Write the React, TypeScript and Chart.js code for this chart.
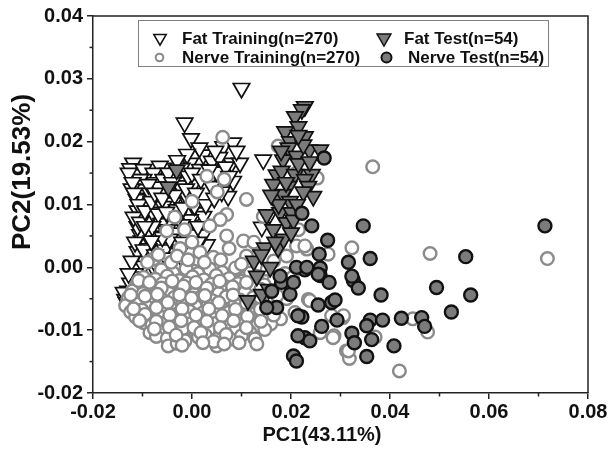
import React, { useEffect, useRef } from "react";
import { Chart, registerables } from "chart.js";

Chart.register(...registerables);

const FONT = '"Liberation Sans", Arial, Helvetica, sans-serif';

const xTickValues = [-0.02, 0.0, 0.02, 0.04, 0.06, 0.08];
const yTickValues = [-0.02, -0.01, 0.0, 0.01, 0.02, 0.03, 0.04];
const xTitle = "PC1(43.11%)";
const yTitle = "PC2(19.53%)";
const seriesNames = ["Fat Training(n=270)", "Nerve Training(n=270)", "Fat Test(n=54)", "Nerve Test(n=54)"];

const fatTraining: [number, number][] = [
  [0.0100, 0.0285], [-0.0015, 0.0230], [-0.0002, 0.0205], [0.0023, 0.0179], [0.0063, 0.0192],
  [0.0083, 0.0198], [0.0080, 0.0166], [0.0040, 0.0169], [0.0097, 0.0166], [0.0144, 0.0171],
  [-0.0004, 0.0166], [0.0016, 0.0156], [-0.0021, 0.0158], [-0.0058, 0.0158], [-0.0065, 0.0161],
  [-0.0119, 0.0166], [-0.0125, 0.0157], [-0.0115, 0.0148], [-0.0098, 0.0156], [-0.0078, 0.0150],
  [-0.0098, 0.0140], [-0.0075, 0.0135], [-0.0058, 0.0140], [-0.0034, 0.0145], [0.0003, 0.0132],
  [0.0036, 0.0140], [0.0083, 0.0137], [-0.0105, 0.0140], [-0.0098, 0.0124], [-0.0055, 0.0121],
  [-0.0044, 0.0124], [-0.0092, 0.0110], [-0.0014, 0.0111], [0.0073, 0.0113], [0.0040, 0.0129],
  [-0.0071, 0.0097], [-0.0038, 0.0103], [-0.0011, 0.0113], [-0.0092, 0.0103], [-0.0058, 0.0097],
  [-0.0031, 0.0092], [0.0010, 0.0087], [0.0023, 0.0081], [-0.0085, 0.0076], [-0.0044, 0.0076],
  [-0.0004, 0.0076], [-0.0092, 0.0055], [-0.0071, 0.0050], [-0.0031, 0.0055], [-0.0004, 0.0055],
  [-0.0102, 0.0042], [-0.0065, 0.0039], [-0.0044, 0.0016], [-0.0031, 0.0002], [-0.0102, 0.0013],
  [-0.0112, -0.0003], [-0.0119, -0.0019], [-0.0129, -0.0038], [-0.0135, -0.0051], [-0.0098, 0.0002],
  [-0.0078, 0.0000], [-0.0119, -0.0045], [-0.0132, -0.0056], [-0.0105, -0.0030], [-0.0092, -0.0019],
  [-0.0071, 0.0002], [-0.0038, 0.0044], [0.0003, 0.0052], [0.0030, 0.0036], [0.0023, 0.0052],
  [-0.0092, 0.0052], [-0.0105, 0.0052], [-0.0071, 0.0034], [-0.0085, 0.0018], [-0.0038, 0.0010],
  [-0.0017, 0.0010], [-0.0024, 0.0026], [0.0153, 0.0079], [0.0163, 0.0114], [0.0141, 0.0064],
  [-0.0110, 0.0090], [-0.0100, 0.0080], [-0.0080, 0.0088], [-0.0062, 0.0070], [-0.0050, 0.0060],
  [-0.0020, 0.0068], [0.0005, 0.0098], [-0.0110, 0.0065], [-0.0088, 0.0030], [-0.0055, 0.0028],
  [-0.0110, 0.0025], [-0.0122, 0.0125], [-0.0112, 0.0108], [-0.0085, 0.0118], [-0.0068, 0.0128],
  [-0.0025, 0.0130], [-0.0008, 0.0145], [0.0050, 0.0152], [0.0060, 0.0120], [-0.0045, 0.0045],
  [-0.0125, -0.0025], [-0.0115, -0.0010],
  [-0.0128, 0.0150], [-0.0120, 0.0135], [-0.0117, 0.0118], [-0.0108, 0.0100], [-0.0118, 0.0080],
  [-0.0105, 0.0072], [-0.0095, 0.0090], [-0.0088, 0.0132], [-0.0082, 0.0105], [-0.0075, 0.0118],
  [-0.0068, 0.0085], [-0.0060, 0.0110], [-0.0052, 0.0088], [-0.0048, 0.0150], [-0.0040, 0.0135],
  [-0.0035, 0.0115], [-0.0028, 0.0080], [-0.0018, 0.0095], [-0.0012, 0.0125], [0.0000, 0.0150],
  [0.0008, 0.0118], [0.0012, 0.0065], [0.0018, 0.0140], [0.0028, 0.0100], [0.0035, 0.0155],
  [0.0045, 0.0110], [0.0055, 0.0175], [0.0068, 0.0160], [0.0075, 0.0145], [0.0090, 0.0185],
  [0.0047, 0.0185], [0.0015, 0.0190], [-0.0010, 0.0180], [-0.0030, 0.0170], [-0.0080, 0.0065],
  [-0.0095, 0.0065], [-0.0115, 0.0040], [-0.0098, 0.0028], [-0.0075, 0.0020], [-0.0060, 0.0010],
  [-0.0122, 0.0010], [-0.0108, -0.0015], [-0.0128, -0.0010], [-0.0138, -0.0040], [-0.0126, -0.0060],
  [-0.0052, 0.0015], [-0.0020, 0.0040], [0.0012, 0.0040], [-0.0060, 0.0048], [-0.0082, 0.0042],
];

const nerveTraining: [number, number][] = [
  // sparse upper / outlying points
  [0.0062, 0.0207], [0.0174, 0.0193], [0.0030, 0.0145], [0.0065, 0.0140], [0.0051, 0.0120],
  [0.0000, 0.0105], [0.0110, 0.0108], [0.0211, 0.0150], [0.0253, 0.0142], [0.0365, 0.0160],
  [0.0144, 0.0081], [0.0070, 0.0084], [0.0057, 0.0076], [0.0036, 0.0066], [-0.0051, 0.0058],
  [0.0215, 0.0060], [0.0104, 0.0042], [0.0211, 0.0034], [0.0232, 0.0029], [0.0323, 0.0031],
  [0.0228, 0.0034], [0.0134, 0.0021], [0.0110, 0.0018], [0.0191, 0.0018], [0.0275, 0.0021],
  [0.0481, 0.0022], [0.0718, 0.0014], [-0.0024, 0.0030], [0.0016, 0.0024], [0.0043, 0.0016],
  [0.0090, -0.0003], [0.0003, -0.0006], [-0.0078, 0.0013], [-0.0055, -0.0008],
  // right / lower spread
  [0.0419, -0.0165], [0.0312, -0.0133], [0.0318, -0.0145], [0.0287, -0.0109], [0.0370, -0.0111],
  [0.0446, -0.0082], [0.0476, -0.0103], [0.0305, -0.0080], [0.0282, -0.0077], [0.0259, -0.0104],
  [0.0235, -0.0051], [0.0208, -0.0072], [0.0238, -0.0053], [0.0285, -0.0112], [0.0306, -0.0077],
  [0.0316, -0.0133], [0.0083, -0.0114],
  // dense cloud
  [-0.0062, -0.0004], [-0.0038, -0.0009], [-0.0012, -0.0002], [0.0012, -0.0010], [0.0036, -0.0003],
  [0.0061, -0.0008], [0.0088, -0.0001], [0.0118, -0.0009], [0.0152, -0.0003], [0.0188, -0.0010],
  [-0.0098, -0.0016], [-0.0074, -0.0019], [-0.0050, -0.0014], [-0.0026, -0.0021], [0.0001, -0.0015],
  [0.0024, -0.0020], [0.0049, -0.0013], [0.0075, -0.0018], [0.0102, -0.0022], [0.0131, -0.0014],
  [0.0166, -0.0019], [0.0203, -0.0016],
  [-0.0112, -0.0028], [-0.0085, -0.0031], [-0.0060, -0.0026], [-0.0036, -0.0030], [-0.0011, -0.0025],
  [0.0014, -0.0032], [0.0039, -0.0027], [0.0066, -0.0030], [0.0093, -0.0026], [0.0120, -0.0033],
  [0.0146, -0.0028], [0.0178, -0.0031],
  [-0.0121, -0.0038], [-0.0099, -0.0042], [-0.0073, -0.0036], [-0.0047, -0.0041], [-0.0022, -0.0037],
  [0.0004, -0.0043], [0.0029, -0.0038], [0.0054, -0.0042], [0.0081, -0.0036], [0.0107, -0.0040],
  [0.0134, -0.0044], [0.0161, -0.0039],
  [-0.0129, -0.0049], [-0.0106, -0.0053], [-0.0084, -0.0047], [-0.0061, -0.0051], [-0.0036, -0.0048],
  [-0.0013, -0.0054], [0.0014, -0.0049], [0.0041, -0.0053], [0.0069, -0.0047], [0.0097, -0.0052],
  [0.0124, -0.0048], [0.0151, -0.0055], [0.0191, -0.0050],
  [-0.0134, -0.0061], [-0.0113, -0.0058], [-0.0091, -0.0063], [-0.0067, -0.0059], [-0.0043, -0.0064],
  [-0.0019, -0.0058], [0.0007, -0.0062], [0.0032, -0.0060], [0.0059, -0.0065], [0.0087, -0.0059],
  [0.0114, -0.0063], [0.0141, -0.0058], [0.0171, -0.0066],
  [-0.0124, -0.0071], [-0.0101, -0.0068], [-0.0079, -0.0073], [-0.0053, -0.0069], [-0.0029, -0.0074],
  [-0.0005, -0.0070], [0.0021, -0.0073], [0.0047, -0.0068], [0.0074, -0.0072], [0.0101, -0.0069],
  [0.0127, -0.0074], [0.0157, -0.0070],
  [-0.0114, -0.0079], [-0.0089, -0.0083], [-0.0066, -0.0078], [-0.0041, -0.0082], [-0.0016, -0.0079],
  [0.0011, -0.0084], [0.0037, -0.0078], [0.0064, -0.0081], [0.0091, -0.0077], [0.0117, -0.0083],
  [0.0144, -0.0079], [0.0179, -0.0082],
  [-0.0098, -0.0088], [-0.0081, -0.0092], [-0.0056, -0.0089], [-0.0031, -0.0093], [-0.0006, -0.0090],
  [0.0021, -0.0094], [0.0049, -0.0089], [0.0077, -0.0092], [0.0104, -0.0088], [0.0131, -0.0093],
  [0.0159, -0.0090],
  [-0.0085, -0.0104], [-0.0065, -0.0099], [-0.0043, -0.0103], [-0.0019, -0.0098], [0.0006, -0.0102],
  [0.0034, -0.0099], [0.0063, -0.0104], [0.0089, -0.0100], [0.0117, -0.0103], [0.0147, -0.0099],
  [-0.0072, -0.0110], [-0.0050, -0.0113], [-0.0014, -0.0117], [0.0013, -0.0111], [0.0027, -0.0108],
  [0.0054, -0.0112], [0.0077, -0.0114], [0.0100, -0.0109], [0.0127, -0.0114], [0.0131, -0.0122],
  [-0.0048, -0.0125], [0.0050, -0.0125], [-0.0030, -0.0121],
  // extra cloud fill
  [-0.0090, 0.0008], [-0.0068, 0.0020], [-0.0042, 0.0008], [-0.0030, 0.0018], [-0.0008, 0.0012],
  [0.0025, 0.0008], [0.0058, 0.0012], [0.0075, 0.0030], [0.0100, 0.0005], [0.0125, 0.0040],
  [0.0165, 0.0010], [0.0070, 0.0050], [0.0000, 0.0040], [-0.0015, 0.0060], [-0.0035, 0.0080],
  [-0.0108, -0.0021], [-0.0086, -0.0024], [-0.0062, -0.0033], [-0.0040, -0.0022], [-0.0017, -0.0030],
  [0.0008, -0.0024], [0.0030, -0.0033], [0.0056, -0.0022], [0.0082, -0.0031], [0.0110, -0.0024],
  [0.0139, -0.0035],
  [-0.0124, -0.0044], [-0.0095, -0.0046], [-0.0070, -0.0043], [-0.0049, -0.0056], [-0.0025, -0.0044],
  [-0.0001, -0.0049], [0.0026, -0.0045], [0.0054, -0.0056], [0.0083, -0.0044], [0.0110, -0.0057],
  [0.0138, -0.0048], [0.0172, -0.0045],
  [-0.0118, -0.0066], [-0.0095, -0.0075], [-0.0072, -0.0064], [-0.0045, -0.0076], [-0.0020, -0.0066],
  [0.0008, -0.0076], [0.0034, -0.0066], [0.0061, -0.0077], [0.0088, -0.0067], [0.0112, -0.0078],
  [0.0138, -0.0067], [0.0165, -0.0076],
  [-0.0106, -0.0085], [-0.0072, -0.0086], [-0.0046, -0.0095], [-0.0022, -0.0085], [0.0004, -0.0096],
  [0.0030, -0.0086], [0.0057, -0.0096], [0.0084, -0.0085], [0.0110, -0.0096], [0.0139, -0.0086],
  [-0.0076, -0.0098], [-0.0032, -0.0108], [0.0018, -0.0104], [0.0044, -0.0118], [0.0069, -0.0107],
  [0.0095, -0.0120], [-0.0020, -0.0124], [0.0022, -0.0120], [0.0065, -0.0122],
];

const fatTest: [number, number][] = [
  [0.0228, 0.0256], [0.0222, 0.0251], [0.0208, 0.0240], [0.0215, 0.0224], [0.0188, 0.0216],
  [0.0228, 0.0208], [0.0198, 0.0200], [0.0195, 0.0190], [0.0237, 0.0187], [0.0259, 0.0187],
  [0.0184, 0.0171], [0.0211, 0.0177], [0.0171, 0.0147], [0.0181, 0.0153], [0.0208, 0.0148],
  [0.0242, 0.0148], [0.0228, 0.0140], [0.0164, 0.0132], [0.0195, 0.0129], [0.0235, 0.0129],
  [0.0245, 0.0113], [0.0171, 0.0108], [0.0184, 0.0116], [0.0198, 0.0105], [0.0151, 0.0084],
  [0.0178, 0.0087], [0.0201, 0.0087], [0.0164, 0.0060], [0.0191, 0.0071], [0.0147, 0.0031],
  [0.0174, 0.0031], [0.0158, 0.0000], [0.0131, -0.0014], [0.0113, -0.0053], [0.0141, -0.0043],
  [-0.0031, 0.0155], [-0.0048, 0.0128], [0.0215, 0.0165], [0.0225, 0.0120], [0.0205, 0.0075],
  [0.0185, 0.0045], [0.0225, 0.0195], [0.0175, 0.0100], [0.0155, -0.0035], [0.0125, 0.0010],
  [0.0168, 0.0040], [0.0212, 0.0100], [0.0190, 0.0135], [0.0160, 0.0115], [0.0215, 0.0210],
  [0.0238, 0.0168], [0.0180, 0.0185], [0.0140, 0.0020], [0.0200, 0.0055],
];

const nerveTest: [number, number][] = [
  [0.0242, 0.0066], [0.0346, 0.0066], [0.0713, 0.0066], [0.0274, 0.0043], [0.0257, 0.0021],
  [0.0316, 0.0008], [0.0360, 0.0014], [0.0553, 0.0017], [0.0259, -0.0001], [0.0228, -0.0004],
  [0.0259, -0.0013], [0.0277, -0.0024], [0.0326, -0.0021], [0.0336, -0.0033], [0.0382, -0.0044],
  [0.0494, -0.0032], [0.0563, -0.0044], [0.0255, -0.0060], [0.0282, -0.0056], [0.0289, -0.0052],
  [0.0524, -0.0071], [0.0222, -0.0079], [0.0293, -0.0084], [0.0360, -0.0084], [0.0385, -0.0084],
  [0.0423, -0.0081], [0.0464, -0.0080], [0.0470, -0.0094], [0.0353, -0.0093], [0.0262, -0.0094],
  [0.0323, -0.0105], [0.0328, -0.0120], [0.0363, -0.0115], [0.0228, -0.0112], [0.0238, -0.0117],
  [0.0408, -0.0125], [0.0353, -0.0142], [0.0205, -0.0141], [0.0211, -0.0149], [0.0214, -0.0077],
  [0.0214, -0.0109], [0.0171, -0.0064], [0.0151, -0.0064], [0.0161, -0.0038], [0.0181, -0.0024],
  [0.0198, -0.0043], [0.0205, -0.0024], [0.0211, 0.0000], [0.0222, 0.0086], [0.0232, 0.0000],
  [0.0255, -0.0011], [0.0178, -0.0014], [0.0267, 0.0174], [0.0323, -0.0014],
];

const toXY = (arr: [number, number][]) => arr.map(([x, y]) => ({ x, y }));

const fmt = (v: number) => (Math.abs(v) < 1e-9 ? 0 : v).toFixed(2);

function downTri(ctx: CanvasRenderingContext2D, x: number, y: number, r: number, fill: string, stroke: string, lw: number) {
  ctx.beginPath();
  ctx.moveTo(x - r * 0.866, y - r * 0.5);
  ctx.lineTo(x + r * 0.866, y - r * 0.5);
  ctx.lineTo(x, y + r);
  ctx.closePath();
  ctx.fillStyle = fill;
  ctx.fill();
  ctx.lineWidth = lw;
  ctx.strokeStyle = stroke;
  ctx.stroke();
}

function circ(ctx: CanvasRenderingContext2D, x: number, y: number, r: number, fill: string, stroke: string, lw: number) {
  ctx.beginPath();
  ctx.arc(x, y, r, 0, Math.PI * 2);
  ctx.fillStyle = fill;
  ctx.fill();
  ctx.lineWidth = lw;
  ctx.strokeStyle = stroke;
  ctx.stroke();
}

const decorPlugin = {
  id: "decor",
  afterDraw(chart: any) {
    const { ctx, chartArea: a, scales } = chart;
    const xs = scales.x;
    const ys = scales.y;
    ctx.save();
    ctx.strokeStyle = "#222";
    ctx.lineWidth = 1.5;
    ctx.beginPath();
    ctx.moveTo(a.left, a.top);
    ctx.lineTo(a.right, a.top);
    ctx.lineTo(a.right, a.bottom);
    ctx.stroke();
    for (let i = 0; i < xTickValues.length - 1; i++) {
      const px = xs.getPixelForValue((xTickValues[i] + xTickValues[i + 1]) / 2);
      ctx.beginPath();
      ctx.moveTo(px, a.bottom);
      ctx.lineTo(px, a.bottom + 3.5);
      ctx.stroke();
    }
    for (let i = 0; i < yTickValues.length - 1; i++) {
      const py = ys.getPixelForValue((yTickValues[i] + yTickValues[i + 1]) / 2);
      ctx.beginPath();
      ctx.moveTo(a.left, py);
      ctx.lineTo(a.left - 3.5, py);
      ctx.stroke();
    }
    ctx.fillStyle = "#111";
    ctx.textAlign = "center";
    ctx.textBaseline = "middle";
    ctx.font = `bold 20px ${FONT}`;
    ctx.fillText(xTitle, 322, 435);
    ctx.save();
    ctx.translate(23, 172);
    ctx.rotate(-Math.PI / 2);
    ctx.font = `bold 26px ${FONT}`;
    ctx.fillText(yTitle, 0, 0);
    ctx.restore();
    ctx.fillStyle = "#fff";
    ctx.fillRect(138, 20, 410, 46);
    ctx.strokeStyle = "#808080";
    ctx.lineWidth = 1;
    ctx.strokeRect(138.5, 20.5, 410, 46);
    downTri(ctx, 160, 38, 7.2, "#fff", "#111", 1.5);
    circ(ctx, 159.5, 57.5, 3.8, "#fff", "#8a8a8a", 2);
    downTri(ctx, 384, 38, 8, "#7b7b7b", "#111", 1.5);
    circ(ctx, 386.5, 57.5, 5, "#7b7b7b", "#111", 2);
    ctx.fillStyle = "#111";
    ctx.textAlign = "left";
    ctx.textBaseline = "alphabetic";
    ctx.font = `bold 17px ${FONT}`;
    ctx.fillText(seriesNames[0], 182, 43.5);
    ctx.fillText(seriesNames[1], 182, 63);
    ctx.fillText(seriesNames[2], 404, 43.5);
    ctx.fillText(seriesNames[3], 408, 63);
    ctx.restore();
  },
};

export default function App() {
  const canvasRef = useRef<HTMLCanvasElement | null>(null);

  useEffect(() => {
    const canvas = canvasRef.current;
    if (!canvas) return;
    const chart = new Chart(canvas, {
      type: "scatter",
      data: {
        datasets: [
          {
            label: seriesNames[0],
            data: toXY(fatTraining),
            pointStyle: "triangle",
            rotation: 180,
            pointRadius: 9.5,
            backgroundColor: "#ffffff",
            borderColor: "#111111",
            borderWidth: 1.7,
            order: 4,
          },
          {
            label: seriesNames[1],
            data: toXY(nerveTraining),
            pointStyle: "circle",
            pointRadius: 6.3,
            backgroundColor: "#ffffff",
            borderColor: "#8a8a8a",
            borderWidth: 2.4,
            order: 3,
          },
          {
            label: seriesNames[2],
            data: toXY(fatTest),
            pointStyle: "triangle",
            rotation: 180,
            pointRadius: 9.5,
            backgroundColor: "#7b7b7b",
            borderColor: "#111111",
            borderWidth: 1.7,
            order: 2,
          },
          {
            label: seriesNames[3],
            data: toXY(nerveTest),
            pointStyle: "circle",
            pointRadius: 6.5,
            backgroundColor: "#7b7b7b",
            borderColor: "#111111",
            borderWidth: 2.4,
            order: 1,
          },
        ] as any,
      },
      options: {
        animation: false,
        responsive: true,
        maintainAspectRatio: false,
        events: [],
        layout: { padding: { top: 16, right: 21, left: 0, bottom: 0 } },
        plugins: { legend: { display: false }, tooltip: { enabled: false }, title: { display: false } },
        scales: {
          x: {
            type: "linear",
            min: xTickValues[0],
            max: xTickValues[xTickValues.length - 1],
            afterBuildTicks: (s: any) => {
              s.ticks = xTickValues.map((v) => ({ value: v }));
            },
            afterFit: (s: any) => {
              s.height = 57;
            },
            ticks: {
              callback: (v: any) => fmt(Number(v)),
              font: { family: FONT, size: 20, weight: "bold" },
              color: "#111",
              padding: 1,
              maxRotation: 0,
              autoSkip: false,
            },
            grid: { display: true, drawOnChartArea: false, drawTicks: true, tickLength: 6, color: "#222", lineWidth: 1.5 },
            border: { display: true, color: "#222", width: 1.5 },
          },
          y: {
            type: "linear",
            min: yTickValues[0],
            max: yTickValues[yTickValues.length - 1],
            afterBuildTicks: (s: any) => {
              s.ticks = yTickValues.map((v) => ({ value: v }));
            },
            afterFit: (s: any) => {
              s.width = 93;
            },
            ticks: {
              callback: (v: any) => fmt(Number(v)),
              font: { family: FONT, size: 20, weight: "bold" },
              color: "#111",
              padding: 4,
              autoSkip: false,
            },
            grid: { display: true, drawOnChartArea: false, drawTicks: true, tickLength: 6, color: "#222", lineWidth: 1.5 },
            border: { display: true, color: "#222", width: 1.5 },
          },
        },
      },
      plugins: [decorPlugin],
    });
    return () => chart.destroy();
  }, []);

  return (
    <div style={{ position: "fixed", left: 0, top: 0, width: 609, height: 450, background: "#fff" }}>
      <canvas ref={canvasRef} style={{ display: "block" }} />
    </div>
  );
}
